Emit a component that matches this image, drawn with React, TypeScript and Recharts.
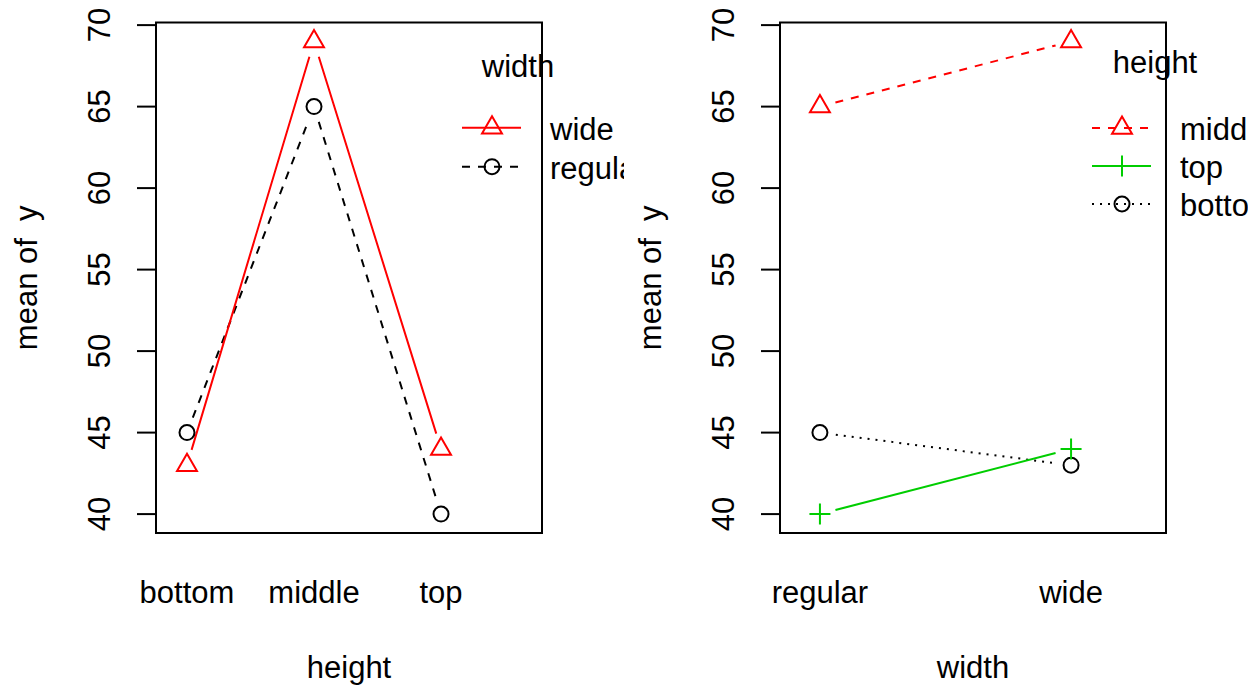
import { LineChart, Line, XAxis, YAxis, ReferenceArea, Legend } from "recharts";

// left panel: mean of y by height, one trace per width
const heightLevels = ["bottom", "middle", "top"];
const wideMeans = [43, 69, 44];
const regularMeans = [45, 65, 40];

// right panel: mean of y by width, one trace per height
const widthLevels = ["regular", "wide"];
const middleMeans = [65, 69];
const topMeans = [40, 44];
const bottomMeans = [45, 43];

const yTicks = [40, 45, 50, 55, 60, 65, 70];

const leftData = heightLevels.map((name, i) => ({
  pos: i + 1,
  name,
  wide: wideMeans[i],
  regular: regularMeans[i],
}));

const rightData = widthLevels.map((name, i) => ({
  pos: i + 1,
  name,
  middle: middleMeans[i],
  top: topMeans[i],
  bottom: bottomMeans[i],
}));

const FONT = '"Liberation Sans", Arial, Helvetica, sans-serif';
const FS = 31;
const RED = "#FF0000";
const GREEN = "#00CD00";
const BLACK = "#000000";

const Y_DOMAIN: [number, number] = [38.84, 70.16];
const LEFT_X: [number, number] = [0.756, 3.795];
const RIGHT_X: [number, number] = [0.841, 2.378];

const PANEL_W = 624;
const PANEL_H = 688;
const MARGIN = { top: 22.5, right: 82, left: 0, bottom: 0 };

// like R's type = "b": segments stop short of the points
const gapCurve = (gap: number) => (context: any) => {
  let prev: [number, number] | null = null;
  return {
    areaStart() {},
    areaEnd() {},
    lineStart() {
      prev = null;
    },
    lineEnd() {},
    point(x: number, y: number) {
      x = +x;
      y = +y;
      if (prev) {
        const dx = x - prev[0];
        const dy = y - prev[1];
        const d = Math.hypot(dx, dy);
        if (d > 2 * gap) {
          const ux = dx / d;
          const uy = dy / d;
          context.moveTo(prev[0] + ux * gap, prev[1] + uy * gap);
          context.lineTo(x - ux * gap, y - uy * gap);
        }
      }
      prev = [x, y];
    },
  };
};

type Shape = "triangle" | "circle" | "plus";

function Marker({ cx, cy, shape, color }: { cx?: number; cy?: number; shape: Shape; color: string }) {
  if (cx == null || cy == null) return <g />;
  const r = 7.4;
  if (shape === "triangle") {
    const pts = `${cx},${cy - 1.555 * r} ${cx + 1.347 * r},${cy + 0.778 * r} ${cx - 1.347 * r},${cy + 0.778 * r}`;
    return <polygon points={pts} fill="none" stroke={color} strokeWidth={2} />;
  }
  if (shape === "circle") {
    return <circle cx={cx} cy={cy} r={7.5} fill="none" stroke={color} strokeWidth={2} />;
  }
  const a = 10.5;
  return (
    <path
      d={`M${cx - a},${cy}H${cx + a}M${cx},${cy - a}V${cy + a}`}
      stroke={color}
      strokeWidth={2}
      fill="none"
    />
  );
}

const renderDot = (shape: Shape, color: string) => (p: any) =>
  <Marker key={`${shape}-${p.index}`} cx={p.cx} cy={p.cy} shape={shape} color={color} />;

function YTick(props: any) {
  const { x, y, payload } = props;
  return (
    <text
      x={x}
      y={y}
      transform={`rotate(-90 ${x} ${y})`}
      textAnchor="middle"
      fontFamily={FONT}
      fontSize={FS}
      fill={BLACK}
    >
      {payload.value}
    </text>
  );
}

function XTick(props: any) {
  const { x, y, payload, labels } = props;
  return (
    <text x={x} y={y + 70} textAnchor="middle" fontFamily={FONT} fontSize={FS} fill={BLACK}>
      {labels[payload.value - 1]}
    </text>
  );
}

const xTitle = (title: string) => (p: any) => {
  const vb = p.viewBox || { x: 156, y: 533, width: 386, height: 155 };
  return (
    <text
      x={vb.x + vb.width / 2}
      y={vb.y + 145}
      textAnchor="middle"
      fontFamily={FONT}
      fontSize={FS}
      fill={BLACK}
    >
      {title}
    </text>
  );
};

const yTitle = (title: string) => (p: any) => {
  const vb = p.viewBox || { x: 0, y: 22.5, width: 156, height: 510.5 };
  const x = vb.x + 37;
  const y = vb.y + vb.height / 2;
  return (
    <text
      x={x}
      y={y}
      transform={`rotate(-90 ${x} ${y})`}
      textAnchor="middle"
      fontFamily={FONT}
      fontSize={FS}
      fill={BLACK}
      style={{ whiteSpace: "pre" }}
    >
      {title}
    </text>
  );
};

type LegendItem = { label: string; color: string; dash?: string; shape: Shape };

function LegendBox({
  title,
  titleX,
  titleY,
  rows,
  items,
  width,
}: {
  title: string;
  titleX: number;
  titleY: number;
  rows: number[];
  items: LegendItem[];
  width: number;
}) {
  return (
    <svg width={width} height={200} style={{ display: "block", overflow: "hidden" }}>
      <text x={titleX} y={titleY} textAnchor="middle" fontFamily={FONT} fontSize={FS} fill={BLACK}>
        {title}
      </text>
      {items.map((it, i) => (
        <g key={it.label}>
          <line
            x1={22}
            x2={81}
            y1={rows[i]}
            y2={rows[i]}
            stroke={it.color}
            strokeWidth={2}
            strokeDasharray={it.dash}
          />
          <Marker cx={52} cy={rows[i]} shape={it.shape} color={it.color} />
          <text x={110} y={rows[i] + 12} fontFamily={FONT} fontSize={FS} fill={BLACK}>
            {it.label}
          </text>
        </g>
      ))}
    </svg>
  );
}

const leftLegend: LegendItem[] = [
  { label: "wide", color: RED, shape: "triangle" },
  { label: "regular", color: BLACK, dash: "8 8", shape: "circle" },
];

const rightLegend: LegendItem[] = [
  { label: "middle", color: RED, dash: "8 8", shape: "triangle" },
  { label: "top", color: GREEN, shape: "plus" },
  { label: "bottom", color: BLACK, dash: "2 6", shape: "circle" },
];

function LeftPanel() {
  return (
    <LineChart width={PANEL_W} height={PANEL_H} data={leftData} margin={MARGIN}>
      <XAxis
        type="number"
        dataKey="pos"
        domain={LEFT_X}
        ticks={[1, 2, 3]}
        interval={0}
        allowDataOverflow
        tickLine={false}
        axisLine={false}
        tickSize={0}
        tickMargin={0}
        height={155}
        tick={<XTick labels={heightLevels} />}
        label={xTitle("height")}
      />
      <YAxis
        type="number"
        domain={Y_DOMAIN}
        ticks={yTicks}
        interval={0}
        allowDataOverflow
        width={156}
        tickSize={19}
        tickMargin={27}
        tickLine={{ stroke: BLACK, strokeWidth: 2 }}
        axisLine={false}
        tick={<YTick />}
        label={yTitle("mean of  y")}
      />
      <ReferenceArea
        x1={LEFT_X[0]}
        x2={LEFT_X[1]}
        y1={Y_DOMAIN[0]}
        y2={Y_DOMAIN[1]}
        fill="none"
        fillOpacity={0}
        stroke={BLACK}
        strokeWidth={2}
        ifOverflow="visible"
      />
      <Line
        dataKey="regular"
        type={gapCurve(16) as any}
        stroke={BLACK}
        strokeWidth={2}
        strokeDasharray="8 8"
        dot={renderDot("circle", BLACK)}
        activeDot={false}
        isAnimationActive={false}
      />
      <Line
        dataKey="wide"
        type={gapCurve(16) as any}
        stroke={RED}
        strokeWidth={2}
        dot={renderDot("triangle", RED)}
        activeDot={false}
        isAnimationActive={false}
      />
      <Legend
        layout="horizontal"
        verticalAlign="middle"
        align="center"
        wrapperStyle={{ left: 440, top: 40, width: 184, height: 200, overflow: "hidden" }}
        content={() => (
          <LegendBox title="width" titleX={78} titleY={37} rows={[87.7, 126.7]} items={leftLegend} width={184} />
        )}
      />
    </LineChart>
  );
}

function RightPanel() {
  return (
    <LineChart width={PANEL_W} height={PANEL_H} data={rightData} margin={MARGIN}>
      <XAxis
        type="number"
        dataKey="pos"
        domain={RIGHT_X}
        ticks={[1, 2]}
        interval={0}
        allowDataOverflow
        tickLine={false}
        axisLine={false}
        tickSize={0}
        tickMargin={0}
        height={155}
        tick={<XTick labels={widthLevels} />}
        label={xTitle("width")}
      />
      <YAxis
        type="number"
        domain={Y_DOMAIN}
        ticks={yTicks}
        interval={0}
        allowDataOverflow
        width={156}
        tickSize={19}
        tickMargin={27}
        tickLine={{ stroke: BLACK, strokeWidth: 2 }}
        axisLine={false}
        tick={<YTick />}
        label={yTitle("mean of  y")}
      />
      <ReferenceArea
        x1={RIGHT_X[0]}
        x2={RIGHT_X[1]}
        y1={Y_DOMAIN[0]}
        y2={Y_DOMAIN[1]}
        fill="none"
        fillOpacity={0}
        stroke={BLACK}
        strokeWidth={2}
        ifOverflow="visible"
      />
      <Line
        dataKey="bottom"
        type={gapCurve(16) as any}
        stroke={BLACK}
        strokeWidth={2}
        strokeDasharray="2 6"
        dot={renderDot("circle", BLACK)}
        activeDot={false}
        isAnimationActive={false}
      />
      <Line
        dataKey="top"
        type={gapCurve(16) as any}
        stroke={GREEN}
        strokeWidth={2}
        dot={renderDot("plus", GREEN)}
        activeDot={false}
        isAnimationActive={false}
      />
      <Line
        dataKey="middle"
        type={gapCurve(16) as any}
        stroke={RED}
        strokeWidth={2}
        strokeDasharray="8 8"
        dot={renderDot("triangle", RED)}
        activeDot={false}
        isAnimationActive={false}
      />
      <Legend
        layout="horizontal"
        verticalAlign="middle"
        align="center"
        wrapperStyle={{ left: 446, top: 40, width: 178, height: 200, overflow: "hidden" }}
        content={() => (
          <LegendBox title="height" titleX={85} titleY={33} rows={[88, 126, 164]} items={rightLegend} width={178} />
        )}
      />
    </LineChart>
  );
}

export default function App() {
  return (
    <div
      style={{
        position: "absolute",
        left: 0,
        top: 0,
        width: 1260,
        height: 688,
        background: "#fff",
      }}
    >
      <div style={{ position: "absolute", left: 0, top: 0 }}>
        <LeftPanel />
      </div>
      <div style={{ position: "absolute", left: PANEL_W, top: 0 }}>
        <RightPanel />
      </div>
    </div>
  );
}
